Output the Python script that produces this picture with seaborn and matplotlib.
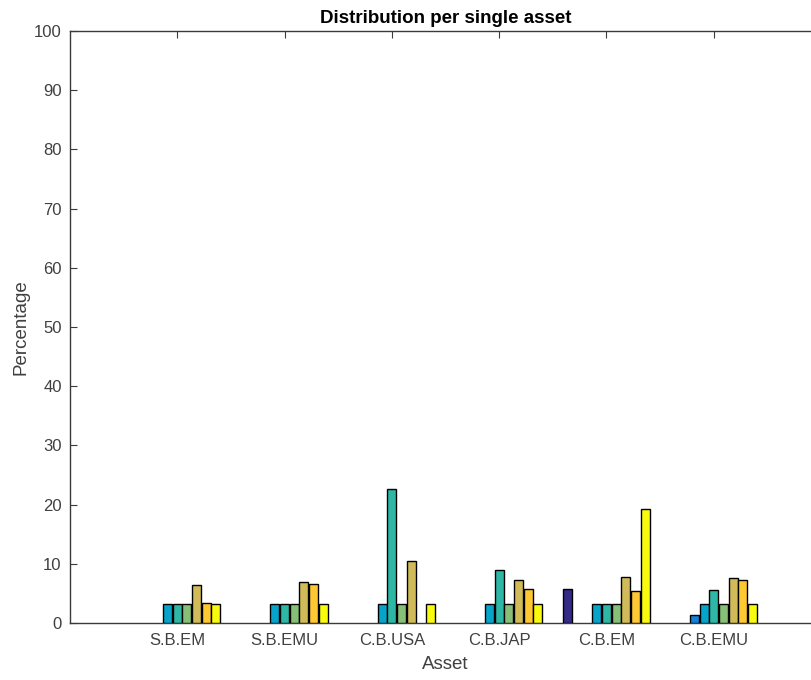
import numpy as np
import pandas as pd
import matplotlib
matplotlib.use("Agg")
import matplotlib.pyplot as plt
import seaborn as sns

# Assets on the x axis
assets = ["S.B.EM", "S.B.EMU", "C.B.USA", "C.B.JAP", "C.B.EM", "C.B.EMU"]

# Percentage of each of the nine series per asset
series_1 = [0.0, 0.0, 0.0, 0.0, 5.74, 0.0]
series_2 = [0.0, 0.0, 0.0, 0.0, 0.0, 0.0]
series_3 = [0.0, 0.0, 0.0, 0.0, 0.0, 1.3]
series_4 = [3.23, 3.23, 3.23, 3.23, 3.23, 3.23]
series_5 = [3.23, 3.23, 22.7, 8.95, 3.23, 5.57]
series_6 = [3.23, 3.23, 3.23, 3.23, 3.23, 3.23]
series_7 = [6.45, 7.0, 10.4, 7.26, 7.8, 7.65]
series_8 = [3.4, 6.6, 0.0, 5.8, 5.35, 7.26]
series_9 = [3.23, 3.23, 3.23, 3.23, 19.3, 3.23]

series_names = [f"S{i}" for i in range(1, 10)]
series_values = [series_1, series_2, series_3, series_4, series_5,
                 series_6, series_7, series_8, series_9]

# parula-like palette, one colour per series
palette = ["#352a87", "#0f5cdd", "#1481d6", "#06a4ca", "#2eb7a4",
           "#87bf77", "#d1bb59", "#fec832", "#f9fb0e"]

rows = []
for name, vals in zip(series_names, series_values):
    for asset, v in zip(assets, vals):
        rows.append({"Asset": asset, "Series": name, "Percentage": v})
df = pd.DataFrame(rows)

sns.set_theme(style="white")
plt.rcParams["font.family"] = ["Liberation Sans", "DejaVu Sans"]

W, H = 811, 680
fig = plt.figure(figsize=(W / 100, H / 100), dpi=100)
# axes box runs past the right edge of the figure
left, right, top, bottom = 70, 821, 31, 623
ax = fig.add_axes([left / W, (H - bottom) / H, (right - left) / W, (bottom - top) / H])

sns.barplot(data=df, x="Asset", y="Percentage", hue="Series",
            order=assets, hue_order=series_names, palette=palette,
            saturation=1, width=0.81, gap=0.07, edgecolor="black",
            linewidth=1.0, errorbar=None, legend=False, ax=ax, zorder=3)

# empty bars leave no outline on the baseline
for p in ax.patches:
    if p.get_height() == 0:
        p.set_visible(False)

ax.set_xlim(-1, 6)
ax.set_ylim(0, 100)
ax.set_yticks(np.arange(0, 101, 10))
ax.set_xticks(range(len(assets)))
ax.set_xticklabels(assets)

txt = "#404040"
for s in ["left", "bottom", "top", "right"]:
    ax.spines[s].set_visible(True)
    ax.spines[s].set_color("#3a3a3a")
    ax.spines[s].set_linewidth(1.0)
ax.tick_params(axis="both", direction="in", length=5, width=0.8,
               colors="#3a3a3a", labelcolor=txt, labelsize=12,
               top=True, right=True, bottom=True, left=True)
ax.tick_params(axis="x", pad=7)
ax.tick_params(axis="y", pad=6)

ax.set_title("Distribution per single asset", fontsize=13.5,
             fontweight="bold", color="black", pad=6)
ax.set_xlabel("Asset", fontsize=13.5, color=txt, labelpad=6)
ax.set_ylabel("Percentage", fontsize=13.5, color=txt, labelpad=3)

fig.savefig("out.png", dpi=100)
